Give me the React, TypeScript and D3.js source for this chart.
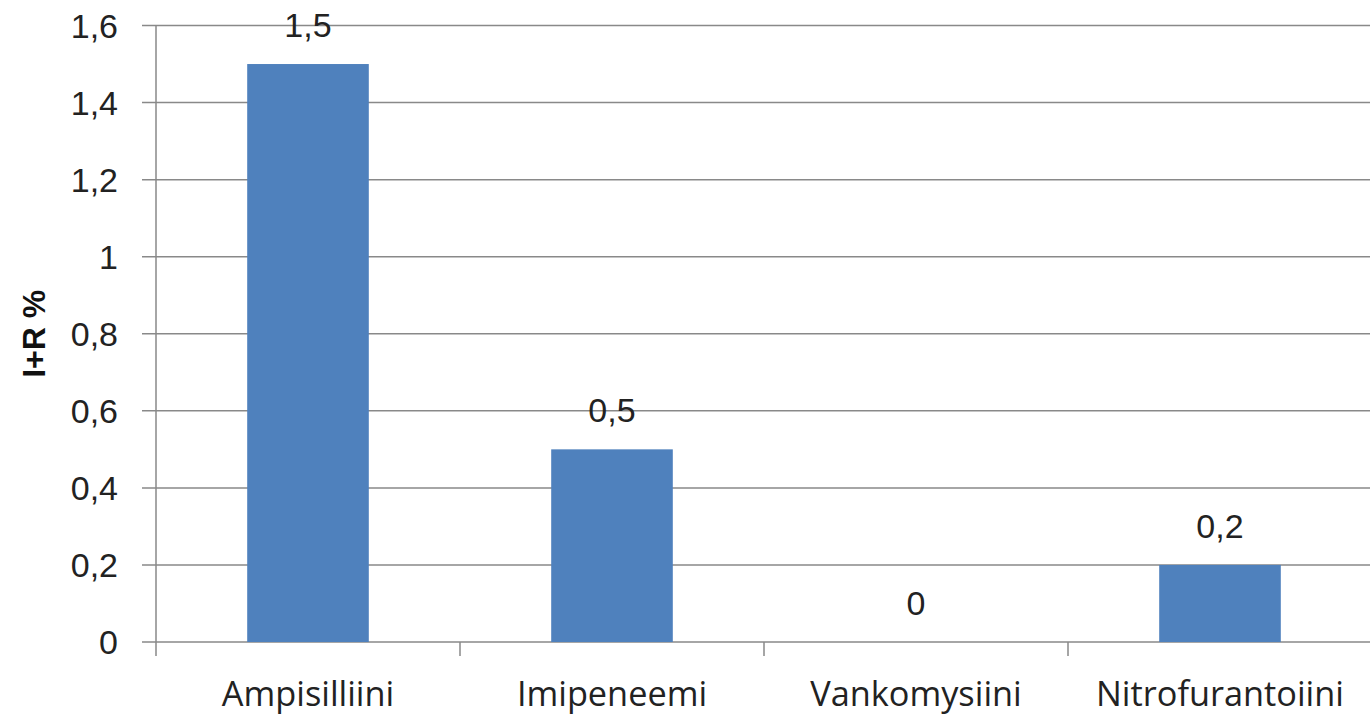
import React from "react";
import * as d3 from "d3";

const categories = ["Ampisilliini", "Imipeneemi", "Vankomysiini", "Nitrofurantoiini"];
const values = [1.5, 0.5, 0, 0.2];
const valueLabels = ["1,5", "0,5", "0", "0,2"];
const yTicks = [0, 0.2, 0.4, 0.6, 0.8, 1, 1.2, 1.4, 1.6];
const yTickLabels = ["0", "0,2", "0,4", "0,6", "0,8", "1", "1,2", "1,4", "1,6"];
const yTitle = "I+R %";

export default function App() {
  const W = 1370, H = 717;
  const left = 156, right = 1372, top = 25.5, bottom = 642;
  const x = d3.scaleBand<string>().domain(categories).range([left, right]).padding(0);
  const y = d3.scaleLinear().domain([0, 1.6]).range([bottom, top]);
  const bw = x.bandwidth() * 0.4;
  const font = "'Liberation Sans', Arial, sans-serif";
  const catFont = "'Open Sans', 'Liberation Sans', sans-serif";
  const grid = "#898989";
  return (
    <svg width={W} height={H} style={{ position: "absolute", left: 0, top: 0, background: "#fff" }}>
      {yTicks.map((t, i) => (
        <g key={i}>
          <line x1={left - 14} x2={right} y1={y(t)} y2={y(t)} stroke={grid} strokeWidth={1.5} />
          <text x={118} y={y(t)} dy="0.36em" textAnchor="end" fontFamily={font} fontSize={34} fill="#222">
            {yTickLabels[i]}
          </text>
        </g>
      ))}
      <line x1={left} x2={left} y1={top} y2={bottom + 14} stroke={grid} strokeWidth={1.5} />
      {categories.slice(1).map((c) => (
        <line key={c} x1={x(c)!} x2={x(c)!} y1={bottom} y2={bottom + 14} stroke={grid} strokeWidth={1.5} />
      ))}
      {categories.map((c, i) => {
        const cx = x(c)! + x.bandwidth() / 2;
        return (
          <g key={c}>
            {values[i] > 0 && (
              <rect x={cx - bw / 2} y={y(values[i])} width={bw} height={bottom - y(values[i])} fill="#4F81BD" />
            )}
            <text x={cx} y={y(values[i]) - 27} textAnchor="middle" fontFamily={font} fontSize={34} fill="#222">
              {valueLabels[i]}
            </text>
            <text x={cx} y={706} textAnchor="middle" fontFamily={catFont} fontSize={34.3} fill="#222">
              {c}
            </text>
          </g>
        );
      })}
      <text
        transform={`translate(45, ${(top + bottom) / 2}) rotate(-90)`}
        textAnchor="middle"
        fontFamily={font}
        fontSize={32}
        fontWeight="bold"
        fill="#111"
      >
        {yTitle}
      </text>
    </svg>
  );
}
